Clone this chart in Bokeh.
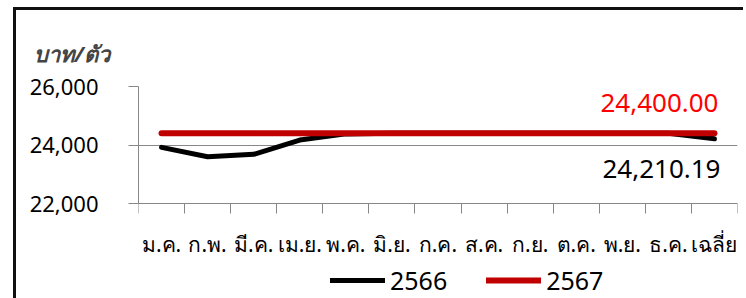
from bokeh.plotting import figure
from bokeh.models import FixedTicker, Legend, LegendItem, ColumnDataSource, NumeralTickFormatter
from bokeh.core.properties import value
from bokeh.embed import file_html
from bokeh.resources import INLINE

categories = ["ม.ค.", "ก.พ.", "มี.ค.", "เม.ย.", "พ.ค.", "มิ.ย.", "ก.ค.", "ส.ค.", "ก.ย.", "ต.ค.", "พ.ย.", "ธ.ค.", "เฉลี่ย"]
y2566 = [23920, 23600, 23680, 24170, 24380, 24400, 24400, 24400, 24400, 24400, 24400, 24400, 24210.19]
y2567 = [24400, 24400, 24400, 24400, 24400, 24400, 24400, 24400, 24400, 24400, 24400, 24400, 24400.00]
y_ticks = [22000, 24000, 26000]
series_names = ["2566", "2567"]

FONT = "Noto Sans"
GRAY = "#878787"

xs = [i + 0.5 for i in range(len(categories))]

# the plotting frame extends below the value axis so that the legend can sit inside it
AXIS_PX = 117          # pixels spanned by 22,000 .. 26,000
FRAME_PX = 212
y_lo, y_hi = y_ticks[0], y_ticks[-1]
y_start = y_hi - FRAME_PX * (y_hi - y_lo) / AXIS_PX

p = figure(frame_width=599, frame_height=FRAME_PX, output_backend="svg", toolbar_location=None,
           x_range=(0, len(categories)), y_range=(y_start, y_hi),
           min_border_left=122, min_border_right=6, min_border_top=76, min_border_bottom=0)
p.margin = (7, 0, 0, 13)
p.styles = {"border-left": "3px solid #111111", "border-top": "3px solid #111111"}
p.outline_line_color = None
p.background_fill_color = "white"
p.border_fill_color = "white"

# x axis drawn at 22,000
p.xaxis.fixed_location = y_lo
p.xaxis.ticker = FixedTicker(ticks=xs, minor_ticks=list(range(len(categories) + 1)))
p.xaxis.major_label_overrides = {x: c for x, c in zip(xs, categories)}
p.xaxis.major_tick_out = 0
p.xaxis.major_tick_in = 0
p.xaxis.minor_tick_out = 10
p.xaxis.minor_tick_in = 0
p.xaxis.minor_tick_line_color = GRAY
p.xaxis.axis_line_color = GRAY
p.xaxis.major_label_standoff = 16
p.xaxis.major_label_text_font = FONT
p.xaxis.major_label_text_font_size = "21px"
p.xaxis.major_label_text_color = "black"

# y axis
p.yaxis.bounds = (y_lo, y_hi)
p.yaxis.ticker = FixedTicker(ticks=y_ticks)
p.yaxis.formatter = NumeralTickFormatter(format="0,0")
p.yaxis.major_tick_out = 10
p.yaxis.major_tick_in = 0
p.yaxis.minor_tick_out = 0
p.yaxis.minor_tick_in = 0
p.yaxis.major_tick_line_color = GRAY
p.yaxis.axis_line_color = GRAY
p.yaxis.major_label_standoff = 30
p.yaxis.major_label_text_font = FONT
p.yaxis.major_label_text_font_size = "22px"
p.yaxis.major_label_text_color = "black"

p.xgrid.grid_line_color = None
p.ygrid.grid_line_color = GRAY
p.ygrid.grid_line_width = 1

# title
p.title.text = "บาท/ตัว"
p.title.text_font = FONT
p.title.text_font_size = "22px"
p.title.text_font_style = "bold italic"
p.title.align = "left"
p.title.offset = -105
p.title.standoff = 37

r1 = p.line(xs, y2566, line_color="black", line_width=5, line_cap="round", line_join="round")
r2 = p.line(xs, y2567, line_color="#C00000", line_width=6, line_cap="round", line_join="round")

# data labels at the average
src_a = ColumnDataSource(dict(x=[xs[-1]], y=[y2567[-1]], t=[f"{y2567[-1]:,.2f}"]))
p.text(x="x", y="y", text="t", source=src_a, text_color="#FF0000", text_font=value(FONT),
       text_font_size="26px", text_align="right", text_baseline="alphabetic", x_offset=4, y_offset=-30)
src_b = ColumnDataSource(dict(x=[xs[-1]], y=[y2566[-1]], t=[f"{y2566[-1]:,.2f}"]))
p.text(x="x", y="y", text="t", source=src_b, text_color="black", text_font=value(FONT),
       text_font_size="26px", text_align="right", text_baseline="alphabetic", x_offset=6, y_offset=30)

legend = Legend(items=[LegendItem(label=series_names[0], renderers=[r1]),
                       LegendItem(label=series_names[1], renderers=[r2])],
                orientation="horizontal", location=(192, 1))
legend.label_text_font = FONT
legend.label_text_font_size = "25px"
legend.label_text_color = "black"
legend.label_height = 24
legend.glyph_height = 24
legend.glyph_width = 55
legend.spacing = 39
legend.border_line_color = None
legend.background_fill_alpha = 0
legend.margin = 0
legend.padding = 0
legend.label_standoff = 5
p.add_layout(legend, "center")

open("out.html", "w").write(file_html(p, INLINE))
